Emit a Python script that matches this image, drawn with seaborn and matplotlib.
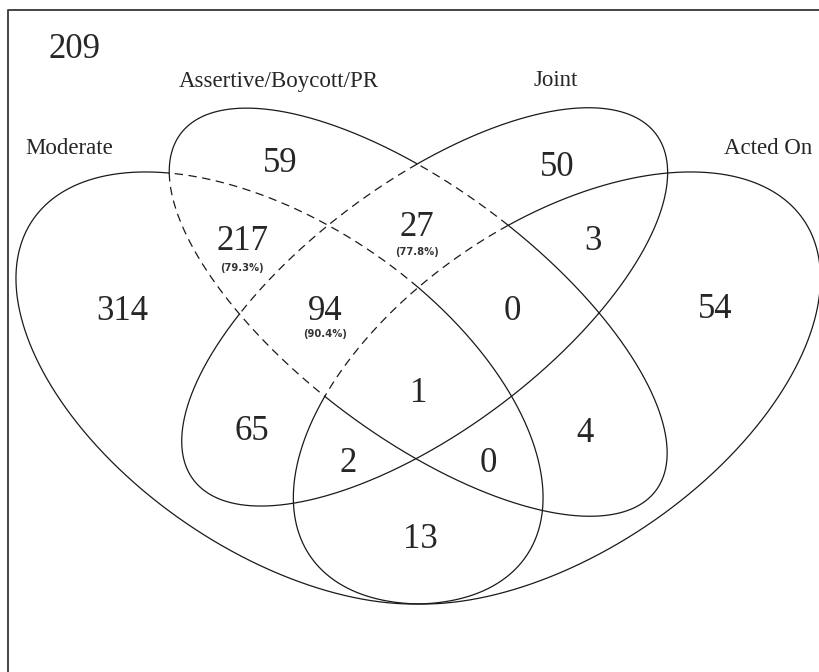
import numpy as np
import pandas as pd
import matplotlib
matplotlib.use("Agg")
import matplotlib.pyplot as plt
import seaborn as sns

# sets, outer-left to outer-right
set_names = ["Moderate", "Assertive/Boycott/PR", "Joint", "Acted On"]
outside_count = 209

# region membership (indices into set_names) and the counts in them
region_sets = [(0,), (1,), (2,), (3,), (0, 1), (1, 2), (2, 3), (0, 1, 2), (1, 2, 3),
               (0, 2), (1, 3), (0, 1, 2, 3), (0, 2, 3), (0, 1, 3), (0, 3)]
region_counts = [314, 59, 50, 54, 217, 27, 3, 94, 0, 65, 4, 1, 2, 0, 13]

# highlighted regions (dashed outline) with their shares
pct_sets = [(0, 1), (1, 2), (0, 1, 2)]
pct_values = [79.3, 77.8, 90.4]

# ---- layout (pixel positions of the labels) ----
region_xy = [(122, 307), (280, 160), (557, 163), (715, 306), (242, 238), (417, 223),
             (593, 238), (325, 307), (512, 307), (252, 428), (585, 429), (419, 390),
             (348, 460), (488, 460), (420, 535)]
pct_xy = [(242, 267), (417, 251), (325, 333)]
name_xy = [(69, 146), (279, 79), (556, 79), (768, 146)]

# ellipses in unit coords (quad venn layout), then mapped to pixels
ell_cx = [0.35, 0.5, 0.507, 0.65]
ell_cy = [0.47, 0.57, 0.577, 0.47]
ell_a = [0.35, 0.35, 0.34, 0.35]
ell_b = [0.2, 0.15, 0.15, 0.2]
ell_rot = [-45, -45, 45, 45]


def to_px(X, Y):
    return -44.1 + 924.6 * X, 744.2 - 757.9 * Y


def outline(k, n=2400):
    t = np.linspace(0, 2 * np.pi, n, endpoint=False)
    r = np.deg2rad(ell_rot[k])
    X = ell_cx[k] + ell_a[k] * np.cos(t) * np.cos(r) - ell_b[k] * np.sin(t) * np.sin(r)
    Y = ell_cy[k] + ell_a[k] * np.cos(t) * np.sin(r) + ell_b[k] * np.sin(t) * np.cos(r)
    return X, Y


def inside(k, X, Y):
    r = np.deg2rad(ell_rot[k])
    dx, dy = X - ell_cx[k], Y - ell_cy[k]
    u = dx * np.cos(r) + dy * np.sin(r)
    v = -dx * np.sin(r) + dy * np.cos(r)
    return (u / ell_a[k]) ** 2 + (v / ell_b[k]) ** 2 < 1


sns.set_theme(style="white")
plt.rcParams["lines.scale_dashes"] = False

fig = plt.figure(figsize=(8.19, 6.72), dpi=100)
ax = fig.add_axes([0, 0, 1, 1])

highlight = [frozenset(s) for s in pct_sets]
line_col = "#1a1a1a"

for k in range(4):
    X, Y = outline(k)
    n = len(X)
    others = [j for j in range(4) if j != k]
    memb = {j: inside(j, X, Y) for j in others}
    dashed = np.zeros(n, dtype=bool)
    for i in range(n):
        out = frozenset(j for j in others if memb[j][i])
        dashed[i] = (out in highlight) or ((out | {k}) in highlight)
    change = np.nonzero(dashed != np.roll(dashed, 1))[0]
    start = change[0] if len(change) else 0
    order = np.roll(np.arange(n), -start)
    px, py = to_px(X[order], Y[order])
    dsh = dashed[order]
    bounds = list(np.nonzero(np.diff(dsh.astype(int)))[0] + 1) + [n]
    s0 = 0
    for b in bounds:
        idx = list(range(s0, b)) + [b % n]
        seg = pd.DataFrame({"x": px[idx], "y": py[idx]})
        sns.lineplot(data=seg, x="x", y="y", sort=False, estimator=None, ax=ax,
                     color=line_col, lw=0.9,
                     linestyle=(0, (6, 4)) if dsh[s0] else "-")
        s0 = b

# frame (left and top edges visible)
ax.plot([8, 8, 830], [690, 10, 10], color="#444444", lw=1.4)

serif = ["Liberation Serif", "DejaVu Serif"]
ax.text(75, 50, str(outside_count), fontsize=25, family=serif, ha="center", va="center")
for (x, y), name in zip(name_xy, set_names):
    ax.text(x, y + 2, name, fontsize=16.5, family=serif, ha="center", va="center")
for (x, y), c in zip(region_xy, region_counts):
    ax.text(x, y + 4, str(c), fontsize=25, family=serif, ha="center", va="center")
for (x, y), p in zip(pct_xy, pct_values):
    ax.text(x, y + 1, f"({p:.1f}%)", fontsize=7.2, family=["DejaVu Sans"], fontweight="bold",
            color="#333333", ha="center", va="center")

ax.set_xlim(0, 819)
ax.set_ylim(672, 0)
ax.set_xlabel("")
ax.set_ylabel("")
ax.axis("off")

fig.savefig("out.png", dpi=100)
